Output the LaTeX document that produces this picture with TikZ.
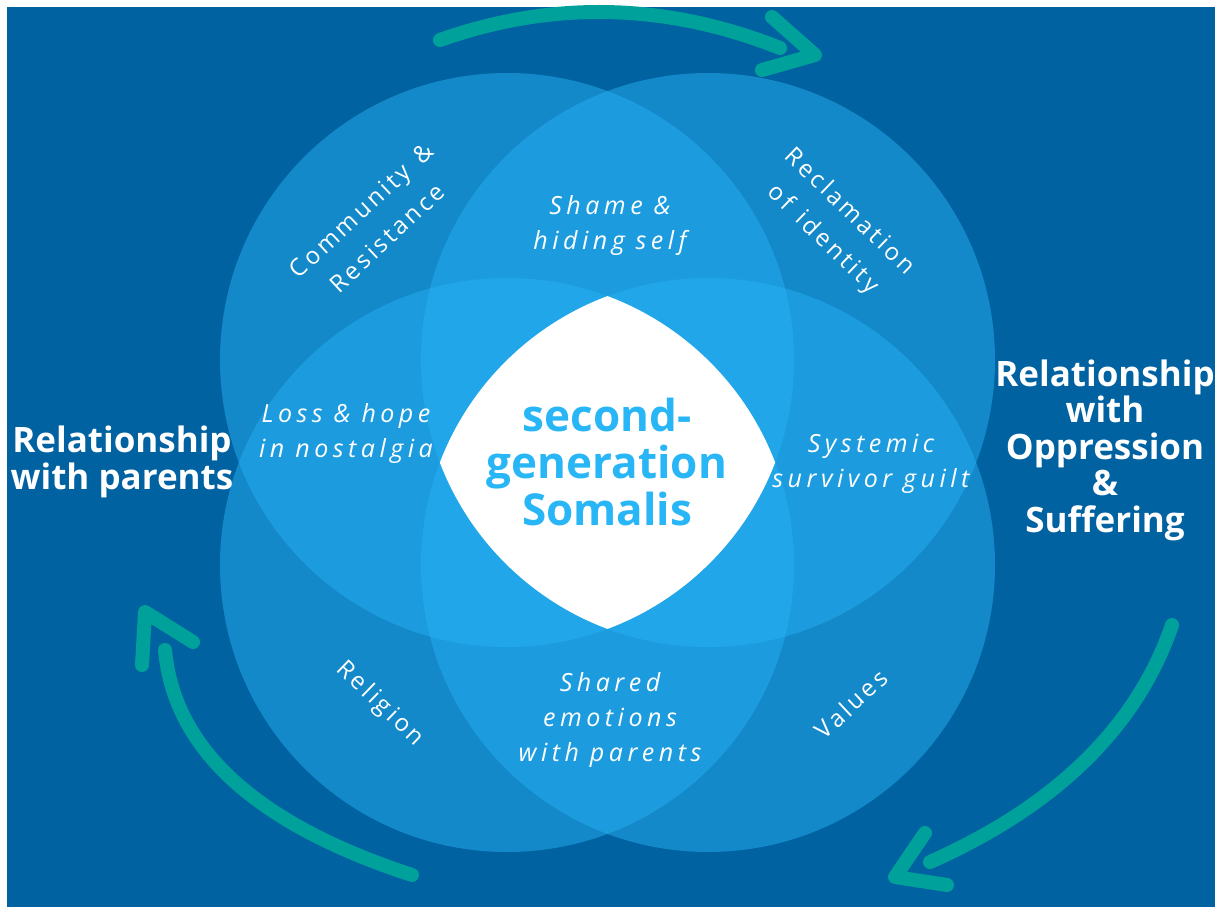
\documentclass[tikz,border=0pt]{standalone}
\usepackage{fontspec}
\setmainfont{Open Sans}
\newfontfamily\trackedfont[LetterSpace=13,WordSpace=1.4]{Open Sans}
\newfontfamily\trackeditfont[LetterSpace=18]{Open Sans}
\definecolor{bgblue}{RGB}{0,98,160}
\definecolor{ringblue}{RGB}{38,176,245}
\definecolor{coreblue}{RGB}{41,182,246}
\definecolor{loopteal}{RGB}{0,161,154}
\begin{document}
\begin{tikzpicture}[x=1pt,y=-1pt,
  ring/.style={fill=ringblue,fill opacity=0.5},
  slanted/.style={text=white,align=center,inner sep=0pt,
    font=\trackeditfont\itshape\fontsize{25}{35}\selectfont},
  tilted/.style={text=white,align=center,inner sep=0pt,
    font=\trackedfont\fontsize{24}{38}\selectfont},
  sidehead/.style={text=white,align=center,inner sep=0pt,
    font=\bfseries\fontsize{35}{36.5}\selectfont},
  corehead/.style={text=coreblue,align=center,inner sep=0pt,
    font=\bfseries\fontsize{44}{47}\selectfont},
  loop/.style={draw=loopteal,line width=14pt,line cap=round,line join=round}]

% canvas
\useasboundingbox (0,0) rectangle (1219,911);
\fill[white] (0,0) rectangle (1219,911);
\fill[bgblue] (7,7) rectangle (1215,907);

% circle centres
\coordinate (cTL) at (507,360);
\coordinate (cTR) at (708,360);
\coordinate (cBL) at (507,565);
\coordinate (cBR) at (708,565);

% four translucent circles
\foreach \c in {cTL,cTR,cBL,cBR}
  \fill[ring] (\c) circle[radius=287pt];

% common intersection in white
\begin{scope}
  \clip (cTL) circle[radius=287pt];
  \clip (cTR) circle[radius=287pt];
  \clip (cBL) circle[radius=287pt];
  \fill[white] (cBR) circle[radius=287pt];
\end{scope}

% cycle arrows
\coordinate (topA) at (440,40);
\coordinate (topB) at (780,48);
\coordinate (topTip) at (815,55);
\coordinate (topArm1) at (772,17);
\coordinate (topArm2) at (762,70);
\draw[loop] (topA) .. controls (553,0) and (667,3) .. (topB);
\draw[loop] (topArm1) -- (topTip) -- (topArm2);

\coordinate (leftA) at (412,875);
\coordinate (leftB) at (165,650);
\coordinate (leftTip) at (145,612);
\coordinate (leftArm1) at (142,665);
\coordinate (leftArm2) at (193,642);
\draw[loop] (leftA) .. controls (256,824) and (174,749) .. (leftB);
\draw[loop] (leftArm1) -- (leftTip) -- (leftArm2);

\coordinate (rightA) at (1172,625);
\coordinate (rightB) at (930,862);
\coordinate (rightTip) at (895,877);
\coordinate (rightArm1) at (925,833);
\coordinate (rightArm2) at (947,885);
\draw[loop] (rightA) .. controls (1137,727) and (1056,806) .. (rightB);
\draw[loop] (rightArm1) -- (rightTip) -- (rightArm2);

% labels
\node[corehead] (core) at (607,462) {second-\\generation\\Somalis};

\node[slanted] (shame) at (610,226) {Shame \&\\hiding self};
\node[slanted] (loss) at (346,433) {Loss \& hope\\in nostalgia};
\node[slanted] (guilt) at (871,464) {Systemic\\survivor guilt};
\node[slanted] (shared) at (610,720) {Shared\\emotions\\with parents};

\node[tilted,rotate=43] (community) at (374,224) {Community \&\\Resistance};
\node[tilted,rotate=-44] (reclaim) at (836,226) {Reclamation\\of identity};
\node[tilted,rotate=-44] (religion) at (380,704) {Religion};
\node[tilted,rotate=43] (values) at (851,704) {Values};

\node[sidehead] (parents) at (122,462) {Relationship\\with parents};
\node[sidehead] (oppression) at (1105,450) {Relationship\\with\\Oppression\\\&\\Suffering};
\end{tikzpicture}
\end{document}
